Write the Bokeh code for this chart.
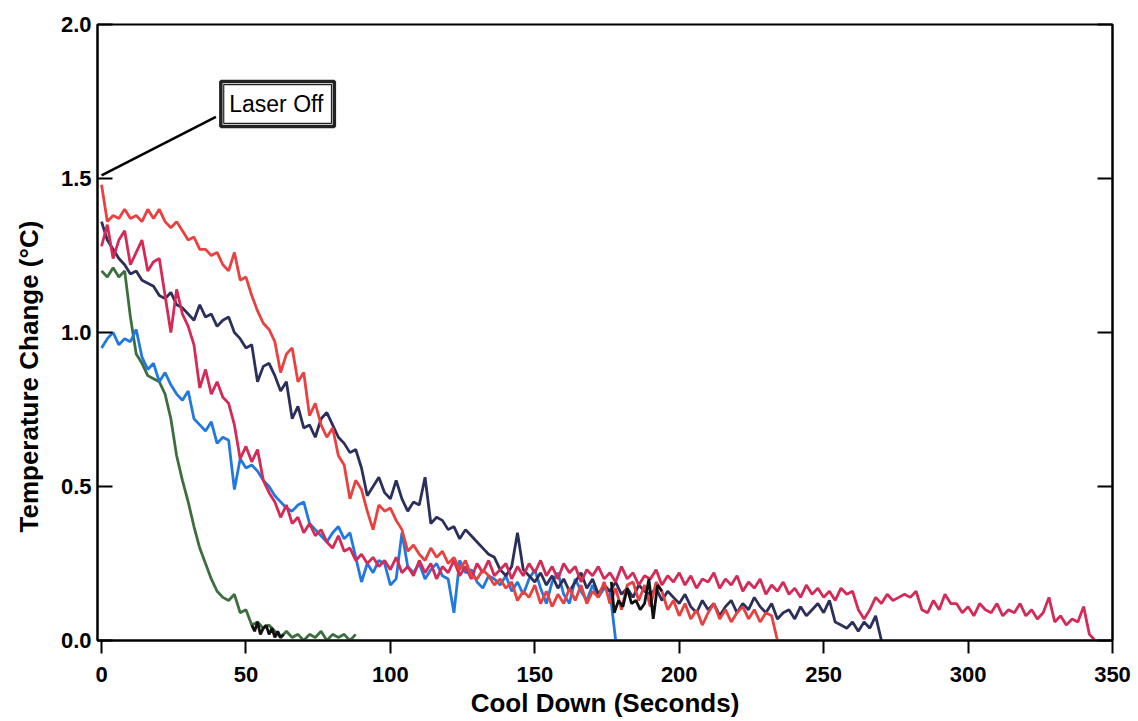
import numpy as np
from bokeh.plotting import figure
from bokeh.models import (Range1d, LinearAxis, FixedTicker, NumeralTickFormatter,
                          CustomJSTickFormatter, Label, BoxAnnotation, Title)
from bokeh.embed import file_html
from bokeh.resources import INLINE

# ---------------- data ----------------
SAMPLE_STEP_S = 2.0  # seconds between readings

x_ticks = [0, 50, 100, 150, 200, 250, 300, 350]
y_ticks = [0.0, 0.5, 1.0, 1.5, 2.0]

# bright red run
red_y = [1.48, 1.36, 1.38, 1.37, 1.40, 1.37, 1.38, 1.36, 1.40, 1.37,
         1.40, 1.36, 1.34, 1.36, 1.33, 1.30, 1.31, 1.27, 1.27, 1.25,
         1.26, 1.22, 1.20, 1.26, 1.17, 1.18, 1.12, 1.07, 1.03, 1.01,
         0.97, 0.87, 0.93, 0.95, 0.84, 0.87, 0.73, 0.77, 0.70, 0.66,
         0.69, 0.60, 0.57, 0.46, 0.52, 0.49, 0.42, 0.36, 0.44, 0.42,
         0.43, 0.39, 0.36, 0.29, 0.31, 0.28, 0.26, 0.30, 0.27, 0.29,
         0.25, 0.27, 0.23, 0.26, 0.21, 0.20, 0.23, 0.21, 0.18, 0.20,
         0.17, 0.19, 0.13, 0.16, 0.14, 0.18, 0.12, 0.16, 0.11, 0.15,
         0.12, 0.17, 0.13, 0.18, 0.12, 0.16, 0.14, 0.19, 0.12, 0.17,
         0.10, 0.18, 0.19, 0.13, 0.18, 0.11, 0.19, 0.16, 0.10, 0.13,
         0.08, 0.12, 0.07, 0.10, 0.05, 0.09, 0.12, 0.07, 0.10, 0.06,
         0.09, 0.11, 0.07, 0.10, 0.06, 0.09, 0.08, 0.00]

# crimson run
crimson_y = [1.28, 1.35, 1.24, 1.30, 1.33, 1.22, 1.26, 1.30, 1.20, 1.23,
             1.24, 1.12, 1.00, 1.14, 1.06, 1.02, 0.96, 0.82, 0.88, 0.80,
             0.84, 0.79, 0.77, 0.70, 0.59, 0.63, 0.58, 0.62, 0.52, 0.48,
             0.45, 0.40, 0.44, 0.38, 0.40, 0.35, 0.38, 0.34, 0.36, 0.32,
             0.30, 0.34, 0.29, 0.30, 0.26, 0.28, 0.25, 0.27, 0.24, 0.26,
             0.23, 0.27, 0.22, 0.24, 0.21, 0.26, 0.22, 0.25, 0.20, 0.24,
             0.22, 0.26, 0.21, 0.24, 0.20, 0.25, 0.22, 0.26, 0.21, 0.23,
             0.25, 0.20, 0.24, 0.21, 0.25, 0.22, 0.26, 0.21, 0.24, 0.20,
             0.25, 0.22, 0.24, 0.19, 0.23, 0.21, 0.24, 0.20, 0.22, 0.19,
             0.24, 0.20, 0.22, 0.18, 0.21, 0.20, 0.23, 0.18, 0.21, 0.19,
             0.22, 0.18, 0.21, 0.17, 0.20, 0.19, 0.22, 0.17, 0.20, 0.18,
             0.21, 0.16, 0.19, 0.17, 0.20, 0.15, 0.18, 0.16, 0.19, 0.15,
             0.17, 0.14, 0.18, 0.15, 0.17, 0.14, 0.16, 0.13, 0.17, 0.15,
             0.16, 0.10, 0.07, 0.10, 0.14, 0.12, 0.15, 0.13, 0.14, 0.15,
             0.14, 0.16, 0.10, 0.09, 0.13, 0.10, 0.15, 0.12, 0.12, 0.09,
             0.11, 0.08, 0.12, 0.10, 0.09, 0.12, 0.08, 0.10, 0.09, 0.12,
             0.08, 0.10, 0.07, 0.09, 0.14, 0.06, 0.08, 0.05, 0.07, 0.06,
             0.11, 0.02, 0.00]

# navy run
navy_y = [1.36, 1.30, 1.27, 1.24, 1.22, 1.19, 1.20, 1.17, 1.16, 1.15,
          1.12, 1.11, 1.13, 1.09, 1.08, 1.06, 1.04, 1.09, 1.05, 1.06,
          1.02, 1.04, 1.05, 1.00, 0.98, 0.95, 0.96, 0.84, 0.89, 0.90,
          0.86, 0.81, 0.84, 0.72, 0.76, 0.69, 0.70, 0.66, 0.72, 0.74,
          0.70, 0.66, 0.64, 0.61, 0.62, 0.56, 0.47, 0.50, 0.53, 0.48,
          0.46, 0.52, 0.46, 0.42, 0.45, 0.44, 0.53, 0.38, 0.40, 0.39,
          0.36, 0.37, 0.33, 0.36, 0.34, 0.32, 0.30, 0.28, 0.27, 0.23,
          0.21, 0.24, 0.35, 0.23, 0.21, 0.19, 0.22, 0.18, 0.21, 0.17,
          0.20, 0.16, 0.19, 0.22, 0.17, 0.20, 0.15, 0.18, 0.16, 0.19,
          0.15, 0.17, 0.14, 0.18, 0.16, 0.15, 0.17, 0.13, 0.16, 0.14,
          0.12, 0.15, 0.11, 0.09, 0.13, 0.10, 0.12, 0.08, 0.11, 0.13,
          0.09, 0.12, 0.10, 0.14, 0.11, 0.09, 0.12, 0.07, 0.09, 0.10,
          0.07, 0.11, 0.08, 0.10, 0.12, 0.09, 0.13, 0.06, 0.05, 0.04,
          0.06, 0.03, 0.06, 0.04, 0.08, 0.00]

# blue run
blue_y = [0.95, 0.98, 1.00, 0.96, 0.98, 0.97, 1.01, 0.92, 0.88, 0.90,
          0.84, 0.87, 0.83, 0.80, 0.78, 0.81, 0.72, 0.70, 0.68, 0.71,
          0.64, 0.66, 0.65, 0.49, 0.59, 0.56, 0.57, 0.55, 0.52, 0.50,
          0.47, 0.45, 0.43, 0.42, 0.44, 0.45, 0.38, 0.36, 0.34, 0.32,
          0.35, 0.37, 0.33, 0.35, 0.27, 0.19, 0.25, 0.22, 0.26, 0.25,
          0.18, 0.20, 0.35, 0.24, 0.22, 0.25, 0.20, 0.23, 0.25, 0.21,
          0.20, 0.09, 0.26, 0.22, 0.23, 0.19, 0.17, 0.21, 0.20, 0.18,
          0.21, 0.16, 0.19, 0.15, 0.20, 0.23, 0.17, 0.12, 0.19, 0.22,
          0.15, 0.12, 0.20, 0.16, 0.13, 0.18, 0.14, 0.17, 0.16, 0.00]

# green run
green_y = [1.20, 1.18, 1.21, 1.18, 1.20, 1.05, 0.93, 0.90, 0.86, 0.85,
           0.84, 0.80, 0.72, 0.60, 0.52, 0.45, 0.37, 0.30, 0.25, 0.20,
           0.16, 0.14, 0.13, 0.15, 0.09, 0.10, 0.05, 0.06, 0.04, 0.05,
           0.03, 0.01, 0.03, 0.01, 0.02, 0.00, 0.02, 0.01, 0.03, 0.00,
           0.02, 0.01, 0.02, 0.00, 0.02]

# black trace pieces
black1_t = [52, 53, 54, 55, 56, 57, 58, 59, 60, 61, 62, 63]
black1_y = [0.05, 0.03, 0.06, 0.02, 0.04, 0.05, 0.02, 0.04, 0.01, 0.03, 0.01, 0.02]
black2_t = [176.5, 177.5, 179, 180.5, 182, 183.5, 185, 186.5, 188, 189.5, 191, 192.5, 194]
black2_y = [0.19, 0.09, 0.13, 0.11, 0.17, 0.12, 0.13, 0.10, 0.12, 0.20, 0.07, 0.18, 0.16]

x_label = "Cool Down (Seconds)"
y_label = "Temperature Change (°C)"

# ---------------- styling ----------------
COL_RED = "#e8413f"
COL_CRIMSON = "#d42a57"
COL_NAVY = "#2b2f5c"
COL_BLUE = "#2179e0"
COL_GREEN = "#3c6e3e"
COL_BLACK = "#111111"
LW = 2.8

FONT = "Liberation Sans"

# annotation placement (data units)
LASER_BOX = dict(left=41.3, right=80.6, bottom=1.669, top=1.815)
LASER_TEXT_POS = (44.2, 1.742)
LEADER_START = (0.0, 1.51)
LEADER_END = (39.6, 1.70)


def times(ys):
    return np.arange(len(ys)) * SAMPLE_STEP_S


p = figure(width=1138, height=721, output_backend="svg", toolbar_location=None,
           x_range=Range1d(-1.4, 350), y_range=Range1d(0, 2.0),
           min_border_left=97, min_border_right=26, min_border_top=24,
           min_border_bottom=81,
           x_axis_label=x_label)
p.grid.visible = False
p.outline_line_color = "black"
p.outline_line_width = 2
p.background_fill_color = "white"
p.border_fill_color = "white"

xa = p.xaxis[0]
xa.ticker = FixedTicker(ticks=x_ticks)
xa.major_tick_in = 0
xa.major_tick_out = 13
xa.minor_tick_line_color = None
xa.axis_line_width = 2
xa.major_tick_line_width = 2
xa.major_label_text_font = FONT
xa.major_label_text_font_style = "bold"
xa.major_label_text_font_size = "22px"
xa.major_label_text_color = "black"
xa.major_label_standoff = 13
xa.axis_label_text_font = FONT
xa.axis_label_text_font_style = "bold"
xa.axis_label_text_font_size = "26px"
xa.axis_label_text_color = "black"
xa.axis_label_standoff = 3

ya = p.yaxis[0]
ya.ticker = FixedTicker(ticks=y_ticks)
ya.formatter = NumeralTickFormatter(format="0.0")
ya.major_tick_in = 15
ya.major_tick_out = 0
ya.minor_tick_line_color = None
ya.axis_line_width = 2
ya.major_tick_line_width = 2
ya.major_label_text_font = FONT
ya.major_label_text_font_style = "bold"
ya.major_label_text_font_size = "22px"
ya.major_label_text_color = "black"
ya.major_label_standoff = 6

# y-axis title, set below the frame centre as in the original
p.add_layout(Title(text=y_label, align="left", offset=108, standoff=24,
                   vertical_align="top",
                   text_font=FONT, text_font_style="bold",
                   text_font_size="26px", text_color="black"), "left")

ra = LinearAxis(ticker=FixedTicker(ticks=y_ticks),
                formatter=CustomJSTickFormatter(code="return ''"),
                major_tick_in=15, major_tick_out=0, minor_tick_line_color=None,
                axis_line_width=2, major_tick_line_width=2,
                major_label_standoff=0, major_label_text_font_size="1px")
p.add_layout(ra, "right")

p.line(times(green_y), green_y, line_color=COL_GREEN, line_width=LW)
p.line(black1_t, black1_y, line_color=COL_BLACK, line_width=LW)
p.line(times(blue_y), blue_y, line_color=COL_BLUE, line_width=LW)
p.line(times(navy_y), navy_y, line_color=COL_NAVY, line_width=LW)
p.line(times(crimson_y), crimson_y, line_color=COL_CRIMSON, line_width=LW)
p.line(times(red_y), red_y, line_color=COL_RED, line_width=LW)
p.line(black2_t, black2_y, line_color=COL_BLACK, line_width=LW)

# "Laser Off" callout
p.segment(x0=[LEADER_START[0]], y0=[LEADER_START[1]],
          x1=[LEADER_END[0]], y1=[LEADER_END[1]],
          line_color="black", line_width=2.5)
p.add_layout(BoxAnnotation(fill_color="white", fill_alpha=1.0,
                           line_color="#222222", line_width=3.5, line_alpha=1.0,
                           **LASER_BOX))
p.add_layout(BoxAnnotation(left=LASER_BOX["left"] + 1.0, right=LASER_BOX["right"] - 1.0,
                           bottom=LASER_BOX["bottom"] + 0.010, top=LASER_BOX["top"] - 0.010,
                           fill_alpha=0.0, line_color="#222222", line_width=1.2,
                           line_alpha=1.0))
p.add_layout(Label(x=LASER_TEXT_POS[0], y=LASER_TEXT_POS[1], text="Laser Off",
                   text_font=FONT, text_font_size="23px",
                   text_baseline="middle", text_align="left", text_color="black"))

open("out.html", "w").write(file_html(p, INLINE))
